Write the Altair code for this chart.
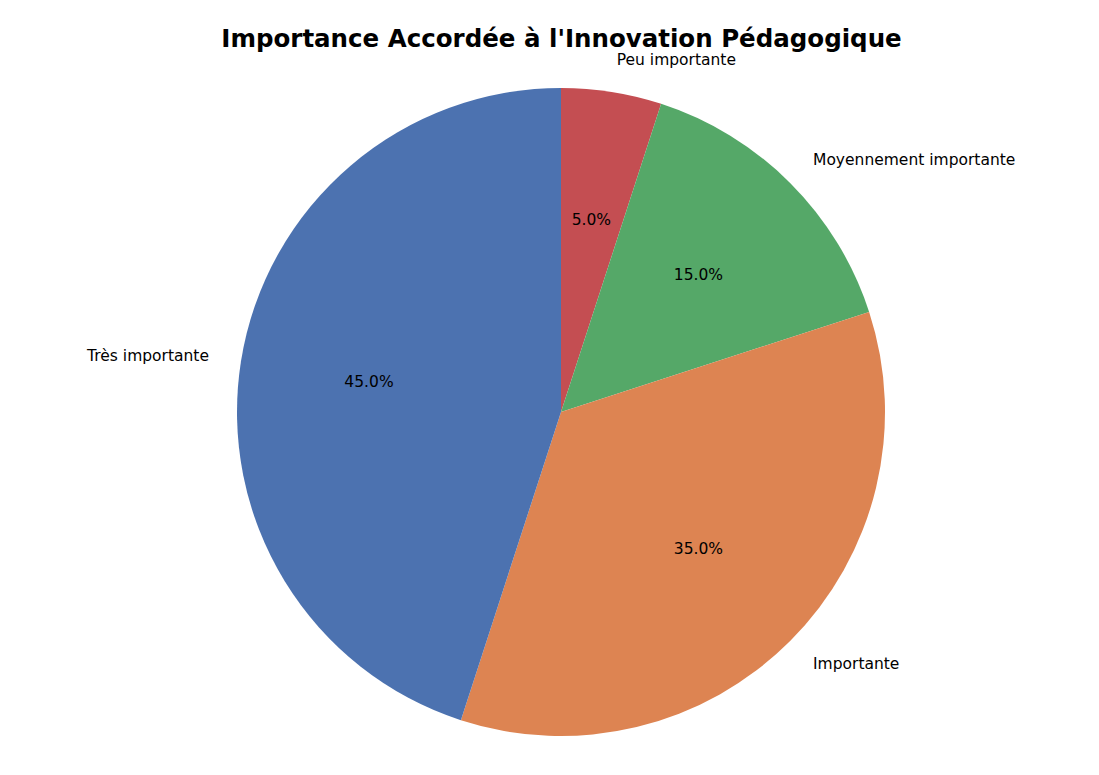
import math
import altair as alt
import pandas as pd

categories = ["Peu importante", "Moyennement importante", "Importante", "Très importante"]
values = [5, 15, 35, 45]
colors = ["#c44e52", "#55a868", "#dd8452", "#4c72b0"]

df = pd.DataFrame({"cat": categories, "value": values, "order": list(range(len(categories)))})

CX, CY = 553, 348
R = 324
FONT = "DejaVu Sans"
FS = 15.5

theta_scale = alt.Scale(domain=[0, 100], range=[0, 2 * math.pi])

base = alt.Chart(df).transform_stack(
    stack="value", groupby=[], as_=["start", "end"], sort=[alt.SortField("order")]
).transform_calculate(
    mid="(datum.start + datum.end) / 2",
    pct="format(datum.value, '.1f') + '%'",
)

arcs = base.mark_arc(radius=R).encode(
    theta=alt.Theta("start:Q", scale=theta_scale),
    theta2="end:Q",
    color=alt.Color("cat:N", scale=alt.Scale(domain=categories, range=colors), legend=None),
    x=alt.value(CX),
    y=alt.value(CY),
)

labels_right = base.transform_filter("datum.mid < 50").mark_text(
    radius=R * 1.1, align="left", baseline="middle", fontSize=FS, font=FONT, color="black"
).encode(
    theta=alt.Theta("mid:Q", scale=theta_scale),
    text="cat:N",
    x=alt.value(CX),
    y=alt.value(CY),
)

labels_left = base.transform_filter("datum.mid >= 50").mark_text(
    radius=R * 1.1, align="right", baseline="middle", fontSize=FS, font=FONT, color="black"
).encode(
    theta=alt.Theta("mid:Q", scale=theta_scale),
    text="cat:N",
    x=alt.value(CX),
    y=alt.value(CY),
)

pcts = base.mark_text(
    radius=R * 0.6, align="center", baseline="middle", fontSize=FS, font=FONT, color="black"
).encode(
    theta=alt.Theta("mid:Q", scale=theta_scale),
    text="pct:N",
    x=alt.value(CX),
    y=alt.value(CY),
)

chart = alt.layer(arcs, labels_right, labels_left, pcts).properties(
    width=1083,
    height=700,
    autosize=alt.AutoSizeParams(type="none"),
    padding={"left": 0, "top": 56, "right": 0, "bottom": 0},
    background="white",
    title=alt.TitleParams(
        "Importance Accordée à l'Innovation Pédagogique",
        font=FONT, fontSize=24.5, fontWeight="bold", color="black",
        anchor="middle", dx=12, dy=19.5, offset=20,
    ),
).configure_view(stroke=None)

chart.save("out.html", embed_options={"renderer": "svg", "actions": False})
